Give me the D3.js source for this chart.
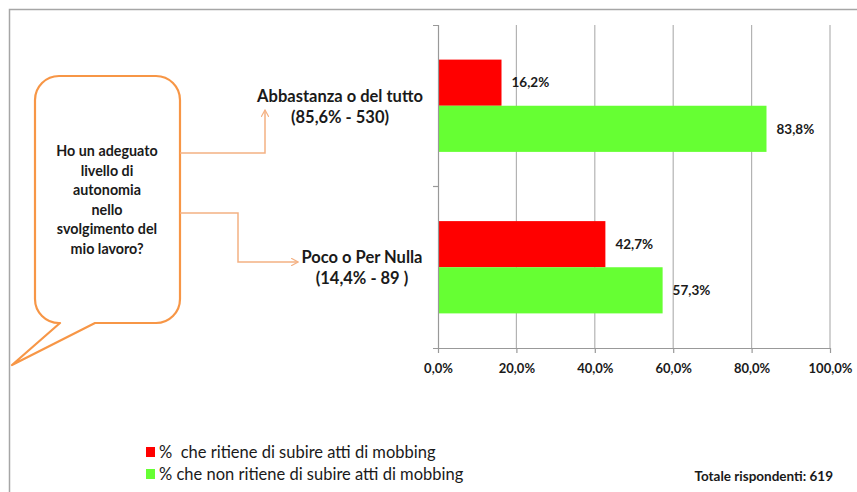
<!DOCTYPE html>
<html>
<head>
<meta charset="utf-8">
<script src="https://cdn.jsdelivr.net/npm/d3@7"></script>
<style>
  body { margin: 0; background: #fff; }
  svg { font-family: Lato, "Open Sans", sans-serif; }
</style>
</head>
<body>
<svg id="chart" width="857" height="492"></svg>
<script>
const categories = ["Abbastanza o del tutto", "Poco o Per Nulla"];
const categorySub = ["(85,6% - 530)", "(14,4% - 89 )"];
const seriesNames = ["%  che ritiene di subire atti di mobbing", "% che non ritiene di subire atti di mobbing"];
const mobbing = [16.2, 42.7];
const noMobbing = [83.8, 57.3];
const xTicks = [0, 20, 40, 60, 80, 100];
const question = ["Ho un adeguato", "livello di", "autonomia", "nello", "svolgimento del", "mio lavoro?"];
const totalLabel = "Totale rispondenti: 619";

const colors = ["#ff0000", "#66ff33"];
const orange = "#f79646";
const lightOrange = "#f4b183";

let svg = d3.select("#chart");
let margin = { top: 25, left: 438, right: 27, bottom: 144 };
let innerW = 857 - margin.left - margin.right;
let innerH = 492 - margin.top - margin.bottom;

// outer frame
svg.append("path")
  .attr("d", "M9.5,492 V9.5 H857")
  .attr("fill", "none")
  .attr("stroke", "#a6a6a6")
  .attr("stroke-width", 1.5);

let g = svg.append("g").attr("transform", `translate(${margin.left},${margin.top})`);

let x = d3.scaleLinear().domain([0, 100]).range([0, innerW]);
let y = d3.scaleBand().domain(categories).range([0, innerH]).paddingInner(0).paddingOuter(0);
let sub = d3.scaleBand().domain([0, 1]).range([y.bandwidth() * 0.2143, y.bandwidth() * 0.7857]);

// gridlines
g.selectAll(".grid")
  .data(xTicks.slice(1))
  .enter()
  .append("line")
  .attr("x1", (d) => x(d))
  .attr("x2", (d) => x(d))
  .attr("y1", 0)
  .attr("y2", innerH)
  .attr("stroke", "#b3b3b3")
  .attr("stroke-width", 1.2);

// bars
let series = [mobbing, noMobbing];
series.forEach((vals, si) => {
  g.selectAll(".bar-" + si)
    .data(categories)
    .enter()
    .append("rect")
    .attr("x", 0)
    .attr("y", (d) => y(d) + sub(si))
    .attr("width", (d, i) => x(vals[i]))
    .attr("height", sub.bandwidth())
    .attr("fill", colors[si]);

  g.selectAll(".lbl-" + si)
    .data(categories)
    .enter()
    .append("text")
    .attr("x", (d, i) => x(vals[i]) + 10)
    .attr("y", (d) => y(d) + sub(si) + sub.bandwidth() / 2)
    .attr("dy", "0.35em")
    .attr("font-size", 13.5)
    .attr("font-weight", "bold")
    .attr("fill", "#1a1a1a")
    .text((d, i) => d3.format(".1f")(vals[i]).replace(".", ",") + "%");
});

// x axis
let xAx = g.append("g")
  .attr("transform", `translate(0,${innerH})`)
  .call(d3.axisBottom(x).tickValues(xTicks).tickSize(5).tickSizeOuter(0)
    .tickFormat((d) => d3.format(".1f")(d).replace(".", ",") + "%"));
xAx.select(".domain").attr("stroke", "#999").attr("stroke-width", 1.2);
xAx.selectAll(".tick line").attr("stroke", "#999").attr("stroke-width", 1.2);
xAx.selectAll("text").attr("font-size", 13).attr("font-weight", "bold").attr("fill", "#1a1a1a")
  .attr("font-family", "Lato, sans-serif").attr("dy", "1.3em");

// y axis (category separators only)
let yAx = g.append("g")
  .call(d3.axisLeft(y).tickValues([]).tickSizeOuter(5));
yAx.select(".domain").attr("stroke", "#999").attr("stroke-width", 1.2);
g.append("line")
  .attr("x1", -5).attr("x2", 0)
  .attr("y1", y(categories[1])).attr("y2", y(categories[1]))
  .attr("stroke", "#999").attr("stroke-width", 1.2);

// speech bubble
let bx0 = 35, bx1 = 180, by0 = 76, by1 = 323, r = 24;
let bubble = d3.path();
bubble.moveTo(bx0 + r, by0);
bubble.lineTo(bx1 - r, by0);
bubble.arcTo(bx1, by0, bx1, by0 + r, r);
bubble.lineTo(bx1, by1 - r);
bubble.arcTo(bx1, by1, bx1 - r, by1, r);
bubble.lineTo(95, by1);
bubble.lineTo(12, 365);
bubble.lineTo(60, by1);
bubble.lineTo(bx0 + r, by1);
bubble.arcTo(bx0, by1, bx0, by1 - r, r);
bubble.lineTo(bx0, by0 + r);
bubble.arcTo(bx0, by0, bx0 + r, by0, r);
bubble.closePath();
svg.append("path")
  .attr("d", bubble.toString())
  .attr("fill", "#fff")
  .attr("stroke", orange)
  .attr("stroke-width", 2.2)
  .attr("stroke-linejoin", "round");

svg.append("text")
  .attr("x", 107)
  .attr("y", 151)
  .attr("text-anchor", "middle")
  .attr("font-size", 14.3)
  .attr("font-weight", "bold")
  .attr("fill", "#1a1a1a")
  .selectAll("tspan")
  .data(question)
  .enter()
  .append("tspan")
  .attr("x", 107)
  .attr("dy", (d, i) => (i === 0 ? "0.35em" : "19.6"))
  .text((d) => d);

// connectors with arrows
svg.append("defs").append("marker")
  .attr("id", "arr")
  .attr("viewBox", "0 0 10 10")
  .attr("refX", 9).attr("refY", 5)
  .attr("markerWidth", 8).attr("markerHeight", 8)
  .attr("markerUnits", "userSpaceOnUse")
  .attr("orient", "auto")
  .append("path")
  .attr("d", "M0,0 L9,5 L0,10")
  .attr("fill", "none")
  .attr("stroke", lightOrange)
  .attr("stroke-width", 1.5);

svg.append("path")
  .attr("d", "M180,153 H265 V110")
  .attr("fill", "none")
  .attr("stroke", lightOrange)
  .attr("stroke-width", 1.5)
  .attr("marker-end", "url(#arr)");
svg.append("path")
  .attr("d", "M180,213 H238 V262 H298")
  .attr("fill", "none")
  .attr("stroke", lightOrange)
  .attr("stroke-width", 1.5)
  .attr("marker-end", "url(#arr)");

// category labels
let catPos = [{ cx: 340, cy: 96 }, { cx: 362, cy: 257 }];
categories.forEach((c, i) => {
  let t = svg.append("text")
    .attr("text-anchor", "middle")
    .attr("font-size", 16.5)
    .attr("font-weight", "bold")
    .attr("fill", "#1a1a1a");
  t.append("tspan").attr("x", catPos[i].cx).attr("y", catPos[i].cy).attr("dy", "0.35em").text(c);
  t.append("tspan").attr("x", catPos[i].cx).attr("y", catPos[i].cy + 21).attr("dy", "0.35em").text(categorySub[i]);
});

// legend
let legend = svg.append("g").attr("transform", "translate(146,452)");
seriesNames.forEach((s, i) => {
  let row = legend.append("g").attr("transform", `translate(0,${i * 22})`);
  row.append("rect")
    .attr("x", 0).attr("y", -5)
    .attr("width", 9).attr("height", 10)
    .attr("fill", colors[i]);
  row.append("text")
    .attr("x", 13).attr("dy", "0.35em")
    .attr("font-size", 16.5)
    .attr("fill", "#1a1a1a")
    .style("white-space", "pre")
    .text(s);
});

svg.append("text")
  .attr("x", 833)
  .attr("y", 476)
  .attr("dy", "0.35em")
  .attr("text-anchor", "end")
  .attr("font-size", 13.5)
  .attr("font-weight", "bold")
  .attr("fill", "#1a1a1a")
  .text(totalLabel);
</script>
</body>
</html>
